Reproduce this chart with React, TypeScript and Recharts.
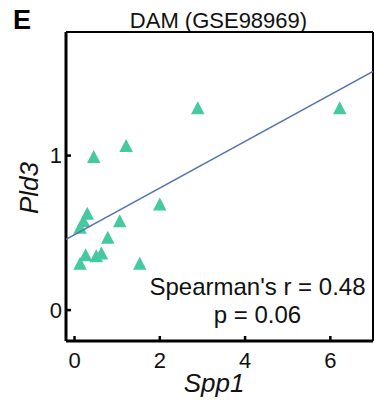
import React from 'react';
import { ScatterChart, Scatter, XAxis, YAxis, ReferenceLine } from 'recharts';

const spp1 = [6.22, 2.89, 1.21, 0.45, 2.0, 1.06, 0.3, 0.21, 0.13, 0.78, 0.26, 0.51, 0.63, 0.13, 1.53];
const pld3 = [1.31, 1.31, 1.065, 0.994, 0.687, 0.579, 0.627, 0.579, 0.536, 0.471, 0.358, 0.352, 0.369, 0.303, 0.303];
const fitX = [-0.2, 7];
const fitIntercept = 0.488;
const fitSlope = 0.151;
const xTicks = [0, 2, 4, 6];
const yTicks = [0, 1];
const title = 'DAM (GSE98969)';
const panel = 'E';
const statR = "Spearman's r = 0.48";
const statP = 'p = 0.06';

const points = spp1.map((x, i) => ({ x, y: pld3[i] }));
const fitLine = fitX.map((x) => ({ x, y: fitIntercept + fitSlope * x }));

const FONT = '"Liberation Sans", Arial, Helvetica, sans-serif';
const GREEN = '#45C9A1';
const BLUE = '#5475B1';

const Triangle = (props: any) => {
  const { cx, cy } = props;
  if (cx == null || cy == null) return null;
  const h = 13;
  const w = 13.5;
  return (
    <polygon
      points={`${cx},${cy - h / 2} ${cx - w / 2},${cy + h / 2} ${cx + w / 2},${cy + h / 2}`}
      fill={GREEN}
    />
  );
};

const Nothing = () => <g />;

export default function App() {
  return (
    <div style={{ position: 'absolute', left: 0, top: 0 }}>
      <ScatterChart width={374} height={403} margin={{ top: 32, right: 1, left: 0, bottom: 0 }}>
        <XAxis
          type="number"
          dataKey="x"
          domain={[-0.2, 7]}
          ticks={xTicks}
          allowDataOverflow
          height={62}
          axisLine={{ stroke: '#000', strokeWidth: 3 }}
          tickLine={{ stroke: '#000', strokeWidth: 2.5 }}
          tickSize={-5}
          tickMargin={16}
          tick={{ fill: '#111', fontSize: 22, fontFamily: FONT }}
        />
        <YAxis
          type="number"
          dataKey="y"
          domain={[-0.2, 1.8]}
          ticks={yTicks}
          allowDataOverflow
          width={66}
          axisLine={{ stroke: '#000', strokeWidth: 3 }}
          tickLine={{ stroke: '#000', strokeWidth: 2.5 }}
          tickSize={-5}
          tickMargin={9}
          tick={{ fill: '#111', fontSize: 22, fontFamily: FONT }}
        />
        <ReferenceLine y={1.8} stroke="#000" strokeWidth={2} />
        <ReferenceLine x={7} stroke="#000" strokeWidth={2} />
        <Scatter data={points} shape={Triangle} isAnimationActive={false} />
        <Scatter
          data={fitLine}
          line={{ stroke: BLUE, strokeWidth: 1.6 }}
          shape={Nothing}
          isAnimationActive={false}
        />
        <text x={13} y={29} fontFamily={FONT} fontWeight="bold" fontSize={27} fill="#000">
          {panel}
        </text>
        <text x={218.5} y={28} textAnchor="middle" fontFamily={FONT} fontSize={22} fill="#111">
          {title}
        </text>
        <text
          x={38}
          y={188}
          transform="rotate(-90, 38, 188)"
          textAnchor="middle"
          fontFamily={FONT}
          fontStyle="italic"
          fontSize={26}
          fill="#111"
        >
          Pld3
        </text>
        <text x={214} y={392} textAnchor="middle" fontFamily={FONT} fontStyle="italic" fontSize={26} fill="#111">
          Spp1
        </text>
        <text x={257.5} y={295} textAnchor="middle" fontFamily={FONT} fontSize={24} fill="#111">
          {statR}
        </text>
        <text x={257.5} y={323} textAnchor="middle" fontFamily={FONT} fontSize={24} fill="#111">
          {statP}
        </text>
      </ScatterChart>
    </div>
  );
}
